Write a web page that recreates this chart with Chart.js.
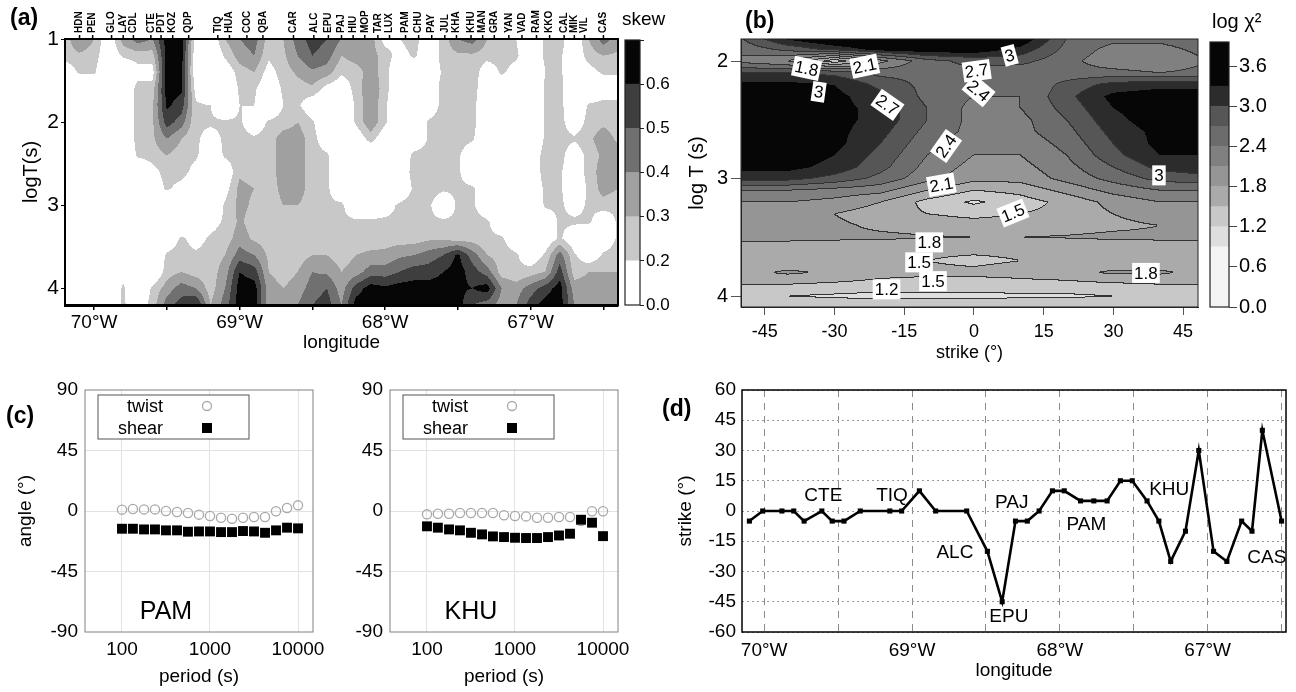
<!DOCTYPE html>
<html>
<head>
<meta charset="utf-8">
<script src="https://cdn.jsdelivr.net/npm/chart.js"></script>
<style>
    body { margin: 0; background: #fff; }
    #figure { position: relative; width: 1296px; height: 692px; overflow: hidden; background: #fff; }
    #figure canvas { position: absolute; }
</style>
</head>
<body>
<div id="figure">
    <canvas id="chartA" style="left:0px;top:0px" width="622" height="360"></canvas>
    <canvas id="barA" style="left:618px;top:0px" width="82" height="340"></canvas>
    <canvas id="chartB" style="left:660px;top:0px" width="545" height="368"></canvas>
    <canvas id="barB" style="left:1200px;top:0px" width="96" height="340"></canvas>
    <canvas id="chartPAM" style="left:0px;top:340px" width="330" height="352"></canvas>
    <canvas id="chartKHU" style="left:330px;top:340px" width="310" height="352"></canvas>
    <canvas id="chartD" style="left:650px;top:340px" width="646" height="352"></canvas>
</div>

<script>

    // ---- stations (longitude in degrees W) and their strike, panel (d) ----
    const stationNames = ['HDN', 'PEN', 'GLO', 'LAY', 'CDL', 'CTE', 'PDT', 'KOZ', 'QDP', 'TIQ', 'HUA', 'COC', 'QBA',
        'CAR', 'ALC', 'EPU', 'PAJ', 'HIU', 'MOP', 'TAR', 'LUX', 'PAM', 'CHU', 'PAY', 'JUL', 'KHA', 'KHU', 'MAN',
        'GRA', 'YAN', 'VAD', 'RAM', 'KKO', 'CAL', 'MIK', 'VIL', 'CAS'];
    const stationLon = [70.10, 70.01, 69.88, 69.80, 69.73, 69.61, 69.54, 69.46, 69.35, 69.15, 69.07, 68.95, 68.84,
        68.63, 68.49, 68.39, 68.30, 68.22, 68.14, 68.05, 67.97, 67.86, 67.77, 67.68, 67.59, 67.51, 67.41, 67.33,
        67.25, 67.15, 67.06, 66.96, 66.87, 66.77, 66.70, 66.63, 66.50];
    const stationStrike = [-5, 0, 0, 0, -5, 0, -5, -5, 0, 0, 0, 10, 0,
        0, -20, -45, -5, -5, 0, 10, 10, 5, 5, 5, 15, 15, 5, -5,
        -25, -10, 30, -20, -25, -5, -10, 40, -5];

    // labels written next to the strike curve
    const strikeLabelText = ['CTE', 'TIQ', 'ALC', 'EPU', 'PAJ', 'PAM', 'KHU', 'CAS'];
    const strikeLabelLon = [69.60, 69.135, 68.71, 68.345, 68.325, 67.82, 67.26, 66.60];
    const strikeLabelStrike = [7.5, 7.5, -20.5, -52.5, 4, -7, 10.5, -23];

    // ---- panel (a): skew (x100) on a longitude / log period grid ----
    const skewLon = [-70.2, -70.1, -70.0, -69.9, -69.8, -69.7, -69.6, -69.5, -69.4, -69.3, -69.2, -69.1, -69.0,
        -68.9, -68.8, -68.7, -68.6, -68.5, -68.4, -68.3, -68.2, -68.1, -68.0, -67.9, -67.8, -67.7, -67.6, -67.5,
        -67.4, -67.3, -67.2, -67.1, -67.0, -66.9, -66.8, -66.7, -66.6, -66.5, -66.4];
    const skewLogT = [1.0, 1.2, 1.4, 1.6, 1.8, 2.0, 2.2, 2.4, 2.6, 2.8, 3.0, 3.2, 3.4, 3.6, 3.8, 4.0, 4.2];
    const skewGrid = [
        [25,40,30,10,35,45,40,65,65,15,10,30,40,45,25,30,45,55,50,40,40,35,15,20,25,10,25,40,45,30,25,20,10,22,25,10,30,45,35],
        [25,28,25,10,22,25,25,65,65,10,5,22,35,40,22,28,40,50,45,30,35,35,25,15,22,10,25,28,28,25,25,22,10,22,22,10,25,30,28],
        [10,22,22,5,5,15,15,65,62,10,5,10,25,30,15,25,32,38,35,22,25,35,25,5,10,10,22,28,28,10,22,15,5,20,22,10,15,22,22],
        [5,5,5,5,5,25,25,65,62,15,5,5,22,22,10,22,25,28,15,10,25,38,25,5,5,10,25,25,28,5,10,5,5,22,25,5,5,10,10],
        [5,5,5,5,5,25,28,62,55,22,20,5,20,20,5,20,22,10,5,5,22,38,22,5,5,10,25,25,25,5,5,5,5,22,25,5,22,25,25],
        [5,5,5,5,5,25,28,55,45,22,22,22,22,10,22,25,30,22,5,5,22,38,22,5,5,22,25,25,25,5,5,5,5,22,25,10,25,28,25],
        [5,5,5,5,5,25,28,40,30,22,15,22,25,22,25,35,35,25,10,5,10,25,10,5,5,22,25,25,22,5,5,5,5,22,25,22,28,35,28],
        [5,5,5,5,5,22,25,30,25,22,10,22,25,25,25,35,35,25,22,5,5,5,5,5,25,25,25,22,10,5,5,5,10,25,25,10,25,32,35],
        [5,5,5,5,5,5,15,25,25,15,5,10,28,25,25,35,35,25,22,5,5,5,5,10,25,25,25,22,10,5,5,5,10,25,22,10,25,35,35],
        [5,5,5,5,5,5,10,22,15,5,5,15,33,30,25,33,35,25,22,10,5,5,5,10,22,25,22,22,22,10,5,5,10,22,22,10,22,35,30],
        [5,5,5,5,5,5,5,5,5,5,5,22,33,28,25,30,30,25,22,22,10,10,15,22,25,22,10,22,22,10,5,5,5,22,22,15,22,25,22],
        [5,5,5,5,5,5,5,5,5,5,15,22,32,25,25,25,25,25,22,22,22,22,22,22,22,22,22,22,25,22,10,5,5,10,22,22,22,10,22],
        [5,5,5,5,5,5,5,10,22,15,22,25,35,28,25,25,25,25,25,25,25,25,25,25,25,28,28,25,25,22,22,10,5,10,22,10,5,10,22],
        [5,5,5,5,5,5,5,22,25,22,25,30,45,40,28,25,25,30,30,25,30,32,33,38,40,45,50,62,45,30,25,22,10,22,45,22,10,22,25],
        [5,5,5,5,15,10,5,25,30,25,25,35,60,55,30,25,30,40,38,30,35,45,45,50,55,55,60,65,55,45,25,22,25,30,55,25,30,30,30],
        [5,5,5,5,22,5,22,35,45,40,25,40,65,65,35,30,35,45,50,35,55,65,62,65,65,65,65,62,60,65,40,35,45,55,65,35,35,35,35],
        [5,5,5,5,22,10,25,45,55,62,30,45,65,65,35,30,40,50,55,40,65,65,65,65,65,65,65,65,50,45,35,40,55,65,65,40,35,40,35]
    ];
    const skewLevels = [0.2, 0.3, 0.4, 0.5, 0.6];
    const skewColors = ['#ffffff', '#c8c8c8', '#a0a0a0', '#707070', '#3e3e3e', '#060606'];
    const skewBarEdges = [0, 1, 2, 3, 4, 5, 6];
    const skewTickLabels = ['0.0', '0.2', '0.3', '0.4', '0.5', '0.6'];

    // ---- panel (b): log chi^2 on a strike / log period grid ----
    const chiStrike = [-50, -40, -30, -20, -10, 0, 10, 20, 30, 40, 50];
    const chiLogT = [1.8, 1.9, 2.0, 2.1, 2.2, 2.3, 2.4, 2.5, 2.6, 2.7, 2.8, 2.9, 3.0, 3.1, 3.2, 3.3, 3.4, 3.5,
        3.6, 3.7, 3.8, 3.9, 4.0, 4.1];
    const chiGrid = [
        [2.7, 3.4, 3.7, 3.8, 3.8, 3.8, 3.6, 2.7, 2.5, 2.5, 2.6],
        [2.5, 2.8, 3.1, 3.4, 3.5, 3.5, 3.2, 2.6, 2.3, 2.3, 2.5],
        [2.3, 2.1, 1.3, 2.0, 2.6, 2.8, 2.8, 2.5, 2.2, 2.1, 2.4],
        [3.0, 3.0, 2.9, 2.6, 2.6, 2.6, 2.5, 2.5, 2.5, 2.4, 2.5],
        [3.4, 3.4, 3.3, 2.9, 2.6, 2.5, 2.4, 2.8, 3.1, 3.2, 3.2],
        [3.5, 3.5, 3.4, 3.1, 2.6, 2.4, 2.4, 2.9, 3.4, 3.5, 3.5],
        [3.5, 3.5, 3.4, 3.2, 2.7, 2.3, 2.4, 2.8, 3.3, 3.5, 3.5],
        [3.5, 3.5, 3.4, 3.2, 2.7, 2.3, 2.3, 2.7, 3.2, 3.5, 3.5],
        [3.5, 3.5, 3.4, 3.1, 2.6, 2.3, 2.3, 2.6, 3.1, 3.4, 3.4],
        [3.5, 3.5, 3.4, 3.0, 2.5, 2.2, 2.2, 2.5, 3.0, 3.4, 3.4],
        [3.5, 3.5, 3.3, 2.9, 2.4, 2.1, 2.1, 2.4, 2.9, 3.3, 3.3],
        [3.4, 3.4, 3.2, 2.8, 2.3, 2.0, 2.0, 2.3, 2.7, 3.1, 3.2],
        [3.1, 3.1, 2.9, 2.6, 2.2, 1.9, 1.9, 2.2, 2.5, 2.8, 2.9],
        [2.4, 2.4, 2.3, 2.2, 1.8, 1.5, 1.6, 1.9, 2.2, 2.4, 2.4],
        [2.1, 2.1, 2.0, 1.8, 1.4, 1.15, 1.35, 1.6, 1.9, 2.1, 2.1],
        [2.0, 1.9, 1.8, 1.65, 1.5, 1.4, 1.5, 1.6, 1.8, 1.9, 2.0],
        [1.95, 1.9, 1.85, 1.75, 1.7, 1.65, 1.65, 1.7, 1.75, 1.8, 1.9],
        [1.85, 1.85, 1.85, 1.85, 1.82, 1.8, 1.8, 1.82, 1.85, 1.85, 1.85],
        [1.7, 1.7, 1.65, 1.6, 1.55, 1.55, 1.55, 1.55, 1.6, 1.65, 1.7],
        [1.6, 1.6, 1.6, 1.55, 1.5, 1.45, 1.5, 1.55, 1.6, 1.6, 1.6],
        [1.7, 1.85, 1.75, 1.6, 1.55, 1.55, 1.6, 1.7, 1.85, 1.85, 1.7],
        [1.5, 1.5, 1.45, 1.4, 1.4, 1.4, 1.4, 1.4, 1.45, 1.5, 1.5],
        [1.25, 1.2, 1.15, 1.1, 1.1, 1.1, 1.15, 1.15, 1.2, 1.25, 1.3],
        [1.5, 1.5, 1.5, 1.5, 1.5, 1.5, 1.5, 1.5, 1.5, 1.5, 1.5]
    ];
    const chiLevels = [0.9, 1.2, 1.5, 1.8, 2.1, 2.4, 2.7, 3.0, 3.3];
    const chiColors = ['#f4f4f4', '#dedede', '#c8c8c8', '#aaaaaa', '#959595', '#808080', '#6c6c6c', '#565656', '#2c2c2c', '#060606'];
    const chiLines = [1.2, 1.5, 1.8, 2.1, 2.4, 2.7, 3.0];
    const chiBarEdges = [0, 0.9, 1.2, 1.5, 1.8, 2.1, 2.4, 2.7, 3.0, 3.3, 3.96];

    // contour labels of panel (b)
    const chiLabelText = ['1.8', '2.1', '3', '2.7', '2.7', '3', '2.4', '2.4', '2.1', '1.5', '3', '1.8', '1.5', '1.5', '1.2', '1.8'];
    const chiLabelStrike = [-36, -23.5, -33.4, -18.6, 0.6, 7.7, 1, -6, -7, 8.4, 39.8, -9.6, -11.8, -8.8, -18.8, 37];
    const chiLabelLogT = [2.06, 2.04, 2.26, 2.37, 2.08, 1.95, 2.25, 2.72, 3.05, 3.29, 2.97, 3.54, 3.71, 3.87, 3.94, 3.80];
    const chiLabelAngle = [12, -12, 8, 35, -8, -15, 40, -55, -10, -22, 0, 0, 0, 0, 0, 0];

    // ---- panel (c): twist and shear angles against period ----
    const period = [100, 133, 178, 237, 316, 422, 562, 750, 1000, 1334, 1778, 2371, 3162, 4217, 5623, 7499, 10000];
    const pamTwist = [1, 1.5, 1.2, 1.2, 0, -0.7, -1.5, -2.7, -3.7, -5, -5.7, -5, -4.5, -4.5, -0.2, 2.2, 4.2];
    const pamShear = [-13.2, -13.2, -13.7, -13.7, -14.4, -14.4, -15.4, -15.2, -15.2, -15.7, -15.7, -14.9, -15.2, -16.2, -14.4, -12.4, -12.9];
    const khuTwist = [-2.5, -2, -2, -1.5, -1.5, -1.5, -1.5, -3.2, -3.7, -4, -5, -5, -4.5, -4.5, -7.5, -0.2, -0.2];
    const khuShear = [-11.4, -12.4, -13.7, -14.4, -16.2, -17.4, -18.9, -19.4, -19.9, -20.1, -20.1, -19.4, -18.2, -16.9, -6.5, -8.7, -18.7];
    const angleMajor = [45, 0, -45];
    const periodMajor = [100, 1000, 10000];

    Chart.defaults.font.family = "'Liberation Sans', Arial, sans-serif";
    Chart.defaults.color = '#000';

    const lonLabel = v => Math.abs(v - Math.round(v)) < 1e-6 ? Math.round(-v) + '°W' : '';

    function hexToRgb(hex) {
        const n = parseInt(hex.slice(1), 16);
        return [(n >> 16) & 255, (n >> 8) & 255, n & 255];
    }

    // bilinear value of a regular-ish grid at (x, y)
    function sampleGrid(xs, ys, grid, x, y) {
        let i = 0;
        while (i < xs.length - 2 && x > xs[i + 1]) i++;
        let j = 0;
        while (j < ys.length - 2 && y > ys[j + 1]) j++;
        const tx = Math.min(1, Math.max(0, (x - xs[i]) / (xs[i + 1] - xs[i])));
        const ty = Math.min(1, Math.max(0, (y - ys[j]) / (ys[j + 1] - ys[j])));
        return grid[j][i] * (1 - tx) * (1 - ty) + grid[j][i + 1] * tx * (1 - ty)
            + grid[j + 1][i] * (1 - tx) * ty + grid[j + 1][i + 1] * tx * ty;
    }

    // filled contour drawn pixel by pixel through the chart scales
    function contourFill(cfg) {
        return {
            id: 'contourFill',
            beforeDraw(chart) {
                const {ctx, chartArea: a, scales: {x, y}} = chart;
                const left = Math.round(a.left), top = Math.round(a.top);
                const w = Math.round(a.right) - left, h = Math.round(a.bottom) - top;
                const xv = [], yv = [];
                for (let i = 0; i < w; i++) xv.push(x.getValueForPixel(left + i + 0.5));
                for (let j = 0; j < h; j++) yv.push(y.getValueForPixel(top + j + 0.5));
                const band = new Uint8Array(w * h);
                for (let j = 0; j < h; j++) {
                    for (let i = 0; i < w; i++) {
                        const v = sampleGrid(cfg.xs, cfg.ys, cfg.grid, xv[i], yv[j]) * cfg.scale;
                        let b = 0;
                        while (b < cfg.levels.length && v >= cfg.levels[b]) b++;
                        band[j * w + i] = b;
                    }
                }
                const off = document.createElement('canvas');
                off.width = w; off.height = h;
                const octx = off.getContext('2d');
                const img = octx.createImageData(w, h);
                const rgb = cfg.colors.map(hexToRgb);
                const lineRgb = hexToRgb('#333333');
                for (let k = 0; k < w * h; k++) {
                    let c = rgb[band[k]];
                    if (cfg.lines) {
                        const b0 = band[k];
                        const nb = [];
                        if (k % w < w - 1) nb.push(band[k + 1]);
                        if (k + w < w * h) nb.push(band[k + w]);
                        nb.forEach(b1 => {
                            if (b1 !== b0 && cfg.lines.includes(cfg.levels[Math.max(b0, b1) - 1])) c = lineRgb;
                        });
                    }
                    img.data[4 * k] = c[0];
                    img.data[4 * k + 1] = c[1];
                    img.data[4 * k + 2] = c[2];
                    img.data[4 * k + 3] = 255;
                }
                octx.putImageData(img, 0, 0);
                ctx.drawImage(off, left, top);
            }
        };
    }

    function frameBox(color, width) {
        return {
            id: 'frameBox',
            afterDraw(chart) {
                const {ctx, chartArea: a} = chart;
                ctx.save();
                ctx.setLineDash([]);
                ctx.strokeStyle = color;
                ctx.lineWidth = width;
                ctx.strokeRect(a.left, a.top, a.right - a.left, a.bottom - a.top);
                ctx.restore();
            }
        };
    }

    function canvasTexts(items) {
        return {
            id: 'canvasTexts',
            afterDraw(chart) {
                const ctx = chart.ctx;
                ctx.save();
                items.forEach(t => {
                    ctx.font = t.font;
                    ctx.fillStyle = '#000';
                    ctx.textAlign = t.align || 'left';
                    ctx.textBaseline = 'middle';
                    ctx.fillText(t.text, t.x, t.y);
                });
                ctx.restore();
            }
        };
    }

    // station ticks and rotated names above panel (a)
    const stationTicks = {
        id: 'stationTicks',
        afterDraw(chart) {
            const {ctx, chartArea: a, scales: {x}} = chart;
            ctx.save();
            ctx.strokeStyle = '#000';
            ctx.fillStyle = '#000';
            ctx.lineWidth = 1.5;
            ctx.font = "bold 10px 'Liberation Sans Narrow', 'Liberation Sans', sans-serif";
            stationNames.forEach((name, i) => {
                const px = x.getPixelForValue(-stationLon[i]);
                ctx.beginPath();
                ctx.moveTo(px, a.top);
                ctx.lineTo(px, a.top - 4);
                ctx.stroke();
                ctx.save();
                ctx.translate(px, a.top - 6);
                ctx.rotate(-Math.PI / 2);
                ctx.textAlign = 'left';
                ctx.textBaseline = 'middle';
                ctx.fillText(name, 0, 0);
                ctx.restore();
            });
            ctx.restore();
        }
    };

    // ---------------- panel (a) ----------------
    new Chart(document.getElementById('chartA'), {
        type: 'scatter',
        data: { datasets: [{ data: [] }] },
        options: {
            responsive: false,
            animation: false,
            layout: { padding: { left: 15, top: 39, right: 4, bottom: 2 } },
            plugins: { legend: { display: false }, tooltip: { enabled: false } },
            scales: {
                x: {
                    type: 'linear', min: -70.2, max: -66.4,
                    afterFit: s => { s.height = 53; },
                    ticks: { stepSize: 0.5, includeBounds: false, autoSkip: false, maxRotation: 0, padding: 1,
                        font: { size: 19 }, callback: lonLabel },
                    grid: { drawOnChartArea: false, tickLength: 5, color: '#000', lineWidth: 1.5 },
                    border: { color: '#000', width: 3, z: 1 },
                    title: { display: true, text: 'longitude', font: { size: 19 }, padding: { top: 0, bottom: 4 } }
                },
                y: {
                    type: 'linear', reverse: true, min: 1, max: 4.2,
                    afterFit: s => { s.width = 50; },
                    ticks: { stepSize: 1, includeBounds: false, padding: 2, font: { size: 21 } },
                    grid: { drawOnChartArea: false, tickLength: 4, color: '#000' },
                    border: { color: '#000', width: 2, z: 1 },
                    title: { display: true, text: 'logT(s)', font: { size: 20 }, padding: { top: 4, bottom: 0 } }
                }
            }
        },
        plugins: [
            contourFill({ xs: skewLon, ys: skewLogT, grid: skewGrid, scale: 0.01, levels: skewLevels, colors: skewColors }),
            frameBox('#000', 2),
            stationTicks,
            canvasTexts([{ text: '(a)', x: 10, y: 19, font: "bold 23px 'Liberation Sans', Arial, sans-serif" }])
        ]
    });

    // colour bars built as stacked bars
    function colorbar(id, edges, colors, pad, axisWidth, yTicks, title) {
        return new Chart(document.getElementById(id), {
            type: 'bar',
            data: {
                labels: [''],
                datasets: colors.map((c, i) => ({
                    data: [edges[i + 1] - edges[i]], backgroundColor: c, borderWidth: 0,
                    barPercentage: 1, categoryPercentage: 1, stack: 'bar'
                }))
            },
            options: {
                responsive: false,
                animation: false,
                layout: { padding: pad },
                plugins: { legend: { display: false }, tooltip: { enabled: false } },
                scales: {
                    x: { display: false, stacked: true },
                    y: Object.assign({
                        stacked: true, position: 'right', min: edges[0], max: edges[edges.length - 1],
                        afterFit: s => { s.width = axisWidth; },
                        border: { display: false }
                    }, yTicks)
                }
            },
            plugins: [frameBox('#222', 1.2), canvasTexts([title])]
        });
    }

    colorbar('barA', skewBarEdges, skewColors, { left: 7, top: 40, right: 0, bottom: 35 }, 60, {
        ticks: { stepSize: 1, includeBounds: false, padding: 2, font: { size: 17 },
            callback: v => skewTickLabels[v] !== undefined ? skewTickLabels[v] : '' },
        grid: { drawOnChartArea: false, tickLength: 4, color: '#222' }
    }, { text: 'skew', x: 4, y: 20, font: "19px 'Liberation Sans', Arial, sans-serif" });

    // ---------------- panel (b) ----------------
    const chiLabels = {
        id: 'chiLabels',
        afterDraw(chart) {
            const {ctx, scales: {x, y}} = chart;
            ctx.save();
            ctx.font = "17px 'Liberation Sans', Arial, sans-serif";
            ctx.textAlign = 'center';
            ctx.textBaseline = 'middle';
            chiLabelText.forEach((t, i) => {
                const px = x.getPixelForValue(chiLabelStrike[i]);
                const py = y.getPixelForValue(chiLabelLogT[i]);
                const w = ctx.measureText(t).width + 4;
                ctx.save();
                ctx.translate(px, py);
                ctx.rotate(chiLabelAngle[i] * Math.PI / 180);
                ctx.fillStyle = '#fff';
                ctx.fillRect(-w / 2, -10, w, 20);
                ctx.fillStyle = '#000';
                ctx.fillText(t, 0, 1);
                ctx.restore();
            });
            ctx.restore();
        }
    };

    new Chart(document.getElementById('chartB'), {
        type: 'scatter',
        data: { datasets: [{ data: [] }] },
        options: {
            responsive: false,
            animation: false,
            layout: { padding: { left: 21, top: 39, right: 7, bottom: 0 } },
            plugins: { legend: { display: false }, tooltip: { enabled: false } },
            scales: {
                x: {
                    type: 'linear', min: -50.1, max: 48.2,
                    afterFit: s => { s.height = 61; },
                    ticks: { stepSize: 15, includeBounds: false, autoSkip: false, maxRotation: 0, padding: 6,
                        font: { size: 18 } },
                    grid: { drawOnChartArea: false, tickLength: 8, color: '#555' },
                    border: { color: '#222', width: 1, z: 1 },
                    title: { display: true, text: 'strike (°)', font: { size: 18 }, padding: { top: 0, bottom: 4 } }
                },
                y: {
                    type: 'linear', reverse: true, min: 1.81, max: 4.09,
                    afterFit: s => { s.width = 60; },
                    ticks: { stepSize: 1, includeBounds: false, padding: 3, font: { size: 20 } },
                    grid: { drawOnChartArea: false, tickLength: 10, color: '#555' },
                    border: { color: '#222', width: 1, z: 1 },
                    title: { display: true, text: 'log T (s)', font: { size: 20 }, padding: { top: 4, bottom: 0 } }
                }
            }
        },
        plugins: [
            contourFill({ xs: chiStrike, ys: chiLogT, grid: chiGrid, scale: 1, levels: chiLevels, colors: chiColors, lines: chiLines }),
            frameBox('#222', 1),
            chiLabels,
            canvasTexts([{ text: '(b)', x: 85, y: 22, font: "bold 23px 'Liberation Sans', Arial, sans-serif" }])
        ]
    });

    colorbar('barB', chiBarEdges, chiColors, { left: 10, top: 42, right: 0, bottom: 33 }, 67, {
        ticks: { stepSize: 0.6, includeBounds: false, padding: 2, font: { size: 20 }, callback: v => v.toFixed(1) },
        grid: { drawOnChartArea: false, tickLength: 8, color: '#444' }
    }, { text: 'log χ²', x: 12, y: 22, font: "20px 'Liberation Sans', Arial, sans-serif" });

    // ---------------- panel (c) ----------------
    function angleLegend() {
        return {
            id: 'angleLegend',
            afterDraw(chart) {
                const {ctx, chartArea: a} = chart;
                const bx = a.left + 13, by = a.top + 5;
                ctx.save();
                ctx.fillStyle = '#fff';
                ctx.fillRect(bx, by, 151, 44);
                ctx.strokeStyle = '#555';
                ctx.lineWidth = 1;
                ctx.strokeRect(bx, by, 151, 44);
                ctx.fillStyle = '#000';
                ctx.font = "18px 'Liberation Sans', Arial, sans-serif";
                ctx.textAlign = 'right';
                ctx.textBaseline = 'middle';
                ctx.fillText('twist', bx + 65, by + 12);
                ctx.fillText('shear', bx + 65, by + 34);
                ctx.strokeStyle = '#aaa';
                ctx.lineWidth = 1.3;
                ctx.beginPath();
                ctx.arc(bx + 109, by + 11, 4.5, 0, 2 * Math.PI);
                ctx.stroke();
                ctx.fillStyle = '#000';
                ctx.fillRect(bx + 104, by + 28, 10, 10);
                ctx.restore();
            }
        };
    }

    function anglePanel(id, twist, shear, name, yWidth, pad, extraTexts) {
        new Chart(document.getElementById(id), {
            type: 'scatter',
            data: {
                datasets: [
                    { data: period.map((p, i) => ({ x: p, y: shear[i] })), pointStyle: 'rect', pointRadius: 7,
                        backgroundColor: '#000', borderColor: '#000', borderWidth: 0, order: 1 },
                    { data: period.map((p, i) => ({ x: p, y: twist[i] })), pointStyle: 'circle', pointRadius: 4.6,
                        backgroundColor: 'rgba(0,0,0,0)', borderColor: '#a8a8a8', borderWidth: 1.3, order: 2 }
                ]
            },
            options: {
                responsive: false,
                animation: false,
                layout: { padding: pad },
                plugins: { legend: { display: false }, tooltip: { enabled: false } },
                scales: {
                    x: {
                        type: 'logarithmic', min: 38, max: 14800,
                        afterFit: s => { s.height = 60; },
                        ticks: { autoSkip: false, maxRotation: 0, padding: 6, font: { size: 19 },
                            callback: v => periodMajor.includes(v) ? String(v) : '' },
                        grid: { drawTicks: false, color: c => c.tick && periodMajor.includes(c.tick.value) ? '#e2e2e2' : 'rgba(0,0,0,0)' },
                        border: { display: false },
                        title: { display: true, text: 'period (s)', font: { size: 19 }, padding: { top: 0, bottom: 4 } }
                    },
                    y: {
                        type: 'linear', min: -90, max: 90,
                        afterFit: s => { s.width = yWidth; },
                        ticks: { stepSize: 45, padding: 7, font: { size: 19 } },
                        grid: { drawTicks: false, color: c => c.tick && angleMajor.includes(c.tick.value) ? '#e2e2e2' : 'rgba(0,0,0,0)' },
                        border: { display: false },
                        title: { display: id === 'chartPAM', text: 'angle (°)', font: { size: 19 }, padding: { top: 4, bottom: 0 } }
                    }
                }
            },
            plugins: [
                frameBox('#808080', 1),
                angleLegend(),
                {
                    id: 'siteName',
                    afterDraw(chart) {
                        const {ctx, chartArea: a} = chart;
                        ctx.save();
                        ctx.font = "25px 'Liberation Sans', Arial, sans-serif";
                        ctx.fillStyle = '#000';
                        ctx.textAlign = 'center';
                        ctx.textBaseline = 'middle';
                        ctx.fillText(name, a.left + 81, a.top + 222);
                        ctx.restore();
                    }
                },
                canvasTexts(extraTexts)
            ]
        });
    }

    anglePanel('chartPAM', pamTwist, pamShear, 'PAM', 75, { left: 10, top: 50, right: 17, bottom: 0 },
        [{ text: '(c)', x: 6, y: 77, font: "bold 23px 'Liberation Sans', Arial, sans-serif" }]);
    anglePanel('chartKHU', khuTwist, khuShear, 'KHU', 60, { left: 0, top: 50, right: 22, bottom: 0 }, []);

    // ---------------- panel (d) ----------------
    const strikeLabels = {
        id: 'strikeLabels',
        afterDraw(chart) {
            const {ctx, scales: {x, y}} = chart;
            ctx.save();
            ctx.font = "19px 'Liberation Sans', Arial, sans-serif";
            ctx.fillStyle = '#000';
            ctx.textAlign = 'center';
            ctx.textBaseline = 'middle';
            strikeLabelText.forEach((t, i) => {
                ctx.fillText(t, x.getPixelForValue(-strikeLabelLon[i]), y.getPixelForValue(strikeLabelStrike[i]));
            });
            ctx.restore();
        }
    };

    new Chart(document.getElementById('chartD'), {
        type: 'scatter',
        data: {
            datasets: [{
                data: stationLon.map((l, i) => ({ x: -l, y: stationStrike[i] })),
                showLine: true, tension: 0, borderColor: '#000', borderWidth: 2.6,
                pointStyle: 'rect', pointRadius: 3.6, pointBackgroundColor: '#000', pointBorderWidth: 0
            }]
        },
        options: {
            responsive: false,
            animation: false,
            layout: { padding: { left: 20, top: 50, right: 10, bottom: 6 } },
            plugins: { legend: { display: false }, tooltip: { enabled: false } },
            scales: {
                x: {
                    type: 'linear', min: -70.15, max: -66.47,
                    afterFit: s => { s.height = 54; },
                    ticks: { stepSize: 0.5, includeBounds: false, autoSkip: false, maxRotation: 0, padding: 7,
                        font: { size: 19 }, callback: lonLabel },
                    grid: { drawTicks: false, color: '#8c8c8c', lineWidth: 1 },
                    border: { display: false, dash: [7, 6] },
                    title: { display: true, text: 'longitude', font: { size: 19 }, padding: { top: 0, bottom: 4 } }
                },
                y: {
                    type: 'linear', min: -60, max: 60,
                    afterFit: s => { s.width = 72; },
                    ticks: { stepSize: 15, padding: 6, font: { size: 19 } },
                    grid: { drawTicks: false, color: '#9a9a9a', lineWidth: 1 },
                    border: { display: false, dash: [2, 3] },
                    title: { display: true, text: 'strike (°)', font: { size: 19 }, padding: { top: 4, bottom: 0 } }
                }
            }
        },
        plugins: [
            frameBox('#000', 1.5),
            strikeLabels,
            canvasTexts([{ text: '(d)', x: 12, y: 70, font: "bold 23px 'Liberation Sans', Arial, sans-serif" }])
        ]
    });

</script>
</body>
</html>
